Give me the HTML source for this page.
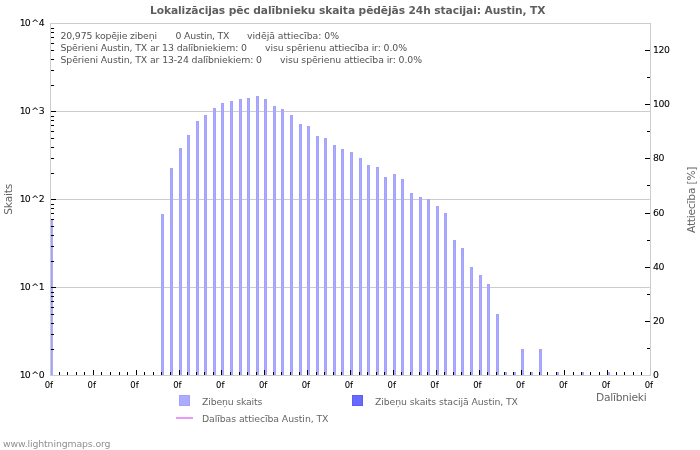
<!DOCTYPE html>
<html lang="lv"><head><meta charset="utf-8"><title>Lokalizācijas pēc dalībnieku skaita</title>
<style>
html,body{margin:0;padding:0;background:#fff;}
body{width:700px;height:450px;overflow:hidden;}
svg{display:block;font-family:"DejaVu Sans","Liberation Sans",sans-serif;}
.cr{shape-rendering:crispEdges;}
.tk{font-size:9.33px;fill:#000;letter-spacing:-0.4px;stroke:#000;stroke-width:0.06px;}
.xl{font-family:"DejaVu Sans Condensed","DejaVu Sans","Liberation Sans",sans-serif;letter-spacing:0;font-size:9.4px;}
.info{font-size:9.33px;fill:#535353;}
.ax{font-size:10.67px;fill:#666;}
.lg{font-size:9.33px;fill:#666;}
.ttl{font-size:10.67px;font-weight:bold;fill:#5e5e5e;}
.wm{font-size:9.33px;fill:#909090;}
</style></head><body>
<svg width="700" height="450" viewBox="0 0 700 450">
<rect x="0" y="0" width="700" height="450" fill="#fff"/>
<text class="ttl" x="150" y="14" textLength="395.5" lengthAdjust="spacing">Lokalizācijas pēc dalībnieku skaita pēdējās 24h stacijai: Austin, TX</text>
<g class="cr" fill="#ccc">
<rect x="50" y="23" width="601" height="1"/>
<rect x="50" y="375" width="601" height="1"/>
<rect x="50" y="23" width="1" height="353"/>
<rect x="650" y="23" width="1" height="353"/>
<rect x="50" y="111" width="600" height="1"/>
<rect x="50" y="199" width="600" height="1"/>
<rect x="50" y="287" width="600" height="1"/>
</g>
<g class="cr">
<rect x="51" y="220" width="2" height="155" fill="#a3a3fd"/>
<rect x="52" y="221" width="1" height="154" fill="#acacfe"/>
<rect x="161" y="214" width="3" height="161" fill="#a3a3fd"/>
<rect x="162" y="215" width="1" height="160" fill="#acacfe"/>
<rect x="170" y="168" width="3" height="207" fill="#a3a3fd"/>
<rect x="171" y="169" width="1" height="206" fill="#acacfe"/>
<rect x="179" y="148" width="3" height="227" fill="#a3a3fd"/>
<rect x="180" y="149" width="1" height="226" fill="#acacfe"/>
<rect x="187" y="135" width="3" height="240" fill="#a3a3fd"/>
<rect x="188" y="136" width="1" height="239" fill="#acacfe"/>
<rect x="196" y="121" width="3" height="254" fill="#a3a3fd"/>
<rect x="197" y="122" width="1" height="253" fill="#acacfe"/>
<rect x="204" y="115" width="3" height="260" fill="#a3a3fd"/>
<rect x="205" y="116" width="1" height="259" fill="#acacfe"/>
<rect x="213" y="108" width="3" height="267" fill="#a3a3fd"/>
<rect x="214" y="109" width="1" height="266" fill="#acacfe"/>
<rect x="221" y="103" width="3" height="272" fill="#a3a3fd"/>
<rect x="222" y="104" width="1" height="271" fill="#acacfe"/>
<rect x="230" y="101" width="3" height="274" fill="#a3a3fd"/>
<rect x="231" y="102" width="1" height="273" fill="#acacfe"/>
<rect x="239" y="99" width="3" height="276" fill="#a3a3fd"/>
<rect x="240" y="100" width="1" height="275" fill="#acacfe"/>
<rect x="247" y="98" width="3" height="277" fill="#a3a3fd"/>
<rect x="248" y="99" width="1" height="276" fill="#acacfe"/>
<rect x="256" y="96" width="3" height="279" fill="#a3a3fd"/>
<rect x="257" y="97" width="1" height="278" fill="#acacfe"/>
<rect x="264" y="99" width="3" height="276" fill="#a3a3fd"/>
<rect x="265" y="100" width="1" height="275" fill="#acacfe"/>
<rect x="273" y="106" width="3" height="269" fill="#a3a3fd"/>
<rect x="274" y="107" width="1" height="268" fill="#acacfe"/>
<rect x="281" y="109" width="3" height="266" fill="#a3a3fd"/>
<rect x="282" y="110" width="1" height="265" fill="#acacfe"/>
<rect x="290" y="115" width="3" height="260" fill="#a3a3fd"/>
<rect x="291" y="116" width="1" height="259" fill="#acacfe"/>
<rect x="299" y="124" width="3" height="251" fill="#a3a3fd"/>
<rect x="300" y="125" width="1" height="250" fill="#acacfe"/>
<rect x="307" y="126" width="3" height="249" fill="#a3a3fd"/>
<rect x="308" y="127" width="1" height="248" fill="#acacfe"/>
<rect x="316" y="136" width="3" height="239" fill="#a3a3fd"/>
<rect x="317" y="137" width="1" height="238" fill="#acacfe"/>
<rect x="324" y="138" width="3" height="237" fill="#a3a3fd"/>
<rect x="325" y="139" width="1" height="236" fill="#acacfe"/>
<rect x="333" y="145" width="3" height="230" fill="#a3a3fd"/>
<rect x="334" y="146" width="1" height="229" fill="#acacfe"/>
<rect x="341" y="149" width="3" height="226" fill="#a3a3fd"/>
<rect x="342" y="150" width="1" height="225" fill="#acacfe"/>
<rect x="350" y="152" width="3" height="223" fill="#a3a3fd"/>
<rect x="351" y="153" width="1" height="222" fill="#acacfe"/>
<rect x="359" y="158" width="3" height="217" fill="#a3a3fd"/>
<rect x="360" y="159" width="1" height="216" fill="#acacfe"/>
<rect x="367" y="165" width="3" height="210" fill="#a3a3fd"/>
<rect x="368" y="166" width="1" height="209" fill="#acacfe"/>
<rect x="376" y="167" width="3" height="208" fill="#a3a3fd"/>
<rect x="377" y="168" width="1" height="207" fill="#acacfe"/>
<rect x="384" y="177" width="3" height="198" fill="#a3a3fd"/>
<rect x="385" y="178" width="1" height="197" fill="#acacfe"/>
<rect x="393" y="174" width="3" height="201" fill="#a3a3fd"/>
<rect x="394" y="175" width="1" height="200" fill="#acacfe"/>
<rect x="401" y="179" width="3" height="196" fill="#a3a3fd"/>
<rect x="402" y="180" width="1" height="195" fill="#acacfe"/>
<rect x="410" y="193" width="3" height="182" fill="#a3a3fd"/>
<rect x="411" y="194" width="1" height="181" fill="#acacfe"/>
<rect x="419" y="197" width="3" height="178" fill="#a3a3fd"/>
<rect x="420" y="198" width="1" height="177" fill="#acacfe"/>
<rect x="427" y="199" width="3" height="176" fill="#a3a3fd"/>
<rect x="428" y="200" width="1" height="175" fill="#acacfe"/>
<rect x="436" y="206" width="3" height="169" fill="#a3a3fd"/>
<rect x="437" y="207" width="1" height="168" fill="#acacfe"/>
<rect x="444" y="213" width="3" height="162" fill="#a3a3fd"/>
<rect x="445" y="214" width="1" height="161" fill="#acacfe"/>
<rect x="453" y="240" width="3" height="135" fill="#a3a3fd"/>
<rect x="454" y="241" width="1" height="134" fill="#acacfe"/>
<rect x="461" y="248" width="3" height="127" fill="#a3a3fd"/>
<rect x="462" y="249" width="1" height="126" fill="#acacfe"/>
<rect x="470" y="267" width="3" height="108" fill="#a3a3fd"/>
<rect x="471" y="268" width="1" height="107" fill="#acacfe"/>
<rect x="479" y="275" width="3" height="100" fill="#a3a3fd"/>
<rect x="480" y="276" width="1" height="99" fill="#acacfe"/>
<rect x="487" y="284" width="3" height="91" fill="#a3a3fd"/>
<rect x="488" y="285" width="1" height="90" fill="#acacfe"/>
<rect x="496" y="314" width="3" height="61" fill="#a3a3fd"/>
<rect x="497" y="315" width="1" height="60" fill="#acacfe"/>
<rect x="504" y="372" width="3" height="3" fill="#a3a3fd"/>
<rect x="505" y="373" width="1" height="2" fill="#acacfe"/>
<rect x="513" y="372" width="3" height="3" fill="#a3a3fd"/>
<rect x="514" y="373" width="1" height="2" fill="#acacfe"/>
<rect x="521" y="349" width="3" height="26" fill="#a3a3fd"/>
<rect x="522" y="350" width="1" height="25" fill="#acacfe"/>
<rect x="530" y="372" width="3" height="3" fill="#a3a3fd"/>
<rect x="531" y="373" width="1" height="2" fill="#acacfe"/>
<rect x="539" y="349" width="3" height="26" fill="#a3a3fd"/>
<rect x="540" y="350" width="1" height="25" fill="#acacfe"/>
<rect x="556" y="372" width="3" height="3" fill="#a3a3fd"/>
<rect x="557" y="373" width="1" height="2" fill="#acacfe"/>
<rect x="581" y="372" width="3" height="3" fill="#a3a3fd"/>
<rect x="582" y="373" width="1" height="2" fill="#acacfe"/>
<rect x="607" y="372" width="3" height="3" fill="#a3a3fd"/>
<rect x="608" y="373" width="1" height="2" fill="#acacfe"/>
</g>
<g class="cr" fill="#000">
<rect x="51" y="349" width="3" height="1"/>
<rect x="51" y="334" width="3" height="1"/>
<rect x="51" y="323" width="3" height="1"/>
<rect x="51" y="314" width="3" height="1"/>
<rect x="51" y="307" width="3" height="1"/>
<rect x="51" y="301" width="3" height="1"/>
<rect x="51" y="296" width="3" height="1"/>
<rect x="51" y="292" width="3" height="1"/>
<rect x="51" y="287" width="5" height="1"/>
<rect x="51" y="261" width="3" height="1"/>
<rect x="51" y="246" width="3" height="1"/>
<rect x="51" y="235" width="3" height="1"/>
<rect x="51" y="226" width="3" height="1"/>
<rect x="51" y="219" width="3" height="1"/>
<rect x="51" y="213" width="3" height="1"/>
<rect x="51" y="208" width="3" height="1"/>
<rect x="51" y="204" width="3" height="1"/>
<rect x="51" y="199" width="5" height="1"/>
<rect x="51" y="173" width="3" height="1"/>
<rect x="51" y="158" width="3" height="1"/>
<rect x="51" y="147" width="3" height="1"/>
<rect x="51" y="138" width="3" height="1"/>
<rect x="51" y="131" width="3" height="1"/>
<rect x="51" y="125" width="3" height="1"/>
<rect x="51" y="120" width="3" height="1"/>
<rect x="51" y="116" width="3" height="1"/>
<rect x="51" y="111" width="5" height="1"/>
<rect x="51" y="85" width="3" height="1"/>
<rect x="51" y="70" width="3" height="1"/>
<rect x="51" y="59" width="3" height="1"/>
<rect x="51" y="50" width="3" height="1"/>
<rect x="51" y="43" width="3" height="1"/>
<rect x="51" y="37" width="3" height="1"/>
<rect x="51" y="32" width="3" height="1"/>
<rect x="51" y="28" width="3" height="1"/>
<rect x="59" y="372" width="1" height="3"/>
<rect x="67" y="372" width="1" height="3"/>
<rect x="76" y="372" width="1" height="3"/>
<rect x="84" y="372" width="1" height="3"/>
<rect x="93" y="370" width="1" height="5"/>
<rect x="101" y="372" width="1" height="3"/>
<rect x="110" y="372" width="1" height="3"/>
<rect x="119" y="372" width="1" height="3"/>
<rect x="127" y="372" width="1" height="3"/>
<rect x="136" y="370" width="1" height="5"/>
<rect x="144" y="372" width="1" height="3"/>
<rect x="153" y="372" width="1" height="3"/>
<rect x="161" y="372" width="1" height="3"/>
<rect x="170" y="372" width="1" height="3"/>
<rect x="179" y="370" width="1" height="5"/>
<rect x="187" y="372" width="1" height="3"/>
<rect x="196" y="372" width="1" height="3"/>
<rect x="204" y="372" width="1" height="3"/>
<rect x="213" y="372" width="1" height="3"/>
<rect x="221" y="370" width="1" height="5"/>
<rect x="230" y="372" width="1" height="3"/>
<rect x="239" y="372" width="1" height="3"/>
<rect x="247" y="372" width="1" height="3"/>
<rect x="256" y="372" width="1" height="3"/>
<rect x="264" y="370" width="1" height="5"/>
<rect x="273" y="372" width="1" height="3"/>
<rect x="281" y="372" width="1" height="3"/>
<rect x="290" y="372" width="1" height="3"/>
<rect x="299" y="372" width="1" height="3"/>
<rect x="307" y="370" width="1" height="5"/>
<rect x="316" y="372" width="1" height="3"/>
<rect x="324" y="372" width="1" height="3"/>
<rect x="333" y="372" width="1" height="3"/>
<rect x="341" y="372" width="1" height="3"/>
<rect x="350" y="370" width="1" height="5"/>
<rect x="359" y="372" width="1" height="3"/>
<rect x="367" y="372" width="1" height="3"/>
<rect x="376" y="372" width="1" height="3"/>
<rect x="384" y="372" width="1" height="3"/>
<rect x="393" y="370" width="1" height="5"/>
<rect x="401" y="372" width="1" height="3"/>
<rect x="410" y="372" width="1" height="3"/>
<rect x="419" y="372" width="1" height="3"/>
<rect x="427" y="372" width="1" height="3"/>
<rect x="436" y="370" width="1" height="5"/>
<rect x="444" y="372" width="1" height="3"/>
<rect x="453" y="372" width="1" height="3"/>
<rect x="461" y="372" width="1" height="3"/>
<rect x="470" y="372" width="1" height="3"/>
<rect x="479" y="370" width="1" height="5"/>
<rect x="487" y="372" width="1" height="3"/>
<rect x="496" y="372" width="1" height="3"/>
<rect x="504" y="372" width="1" height="3"/>
<rect x="513" y="372" width="1" height="3"/>
<rect x="521" y="370" width="1" height="5"/>
<rect x="530" y="372" width="1" height="3"/>
<rect x="539" y="372" width="1" height="3"/>
<rect x="547" y="372" width="1" height="3"/>
<rect x="556" y="372" width="1" height="3"/>
<rect x="564" y="370" width="1" height="5"/>
<rect x="573" y="372" width="1" height="3"/>
<rect x="581" y="372" width="1" height="3"/>
<rect x="590" y="372" width="1" height="3"/>
<rect x="599" y="372" width="1" height="3"/>
<rect x="607" y="370" width="1" height="5"/>
<rect x="616" y="372" width="1" height="3"/>
<rect x="624" y="372" width="1" height="3"/>
<rect x="633" y="372" width="1" height="3"/>
<rect x="641" y="372" width="1" height="3"/>
<rect x="647" y="348" width="3" height="1"/>
<rect x="645" y="321" width="5" height="1"/>
<rect x="647" y="294" width="3" height="1"/>
<rect x="645" y="267" width="5" height="1"/>
<rect x="647" y="240" width="3" height="1"/>
<rect x="645" y="213" width="5" height="1"/>
<rect x="647" y="185" width="3" height="1"/>
<rect x="645" y="158" width="5" height="1"/>
<rect x="647" y="131" width="3" height="1"/>
<rect x="645" y="104" width="5" height="1"/>
<rect x="647" y="77" width="3" height="1"/>
<rect x="645" y="50" width="5" height="1"/>
</g>
<text class="tk" x="19.7 24.8 31.3 38.8" y="378">10^0</text>
<text class="tk" x="19.7 24.8 31.3 38.8" y="290">10^1</text>
<text class="tk" x="19.7 24.8 31.3 38.8" y="202">10^2</text>
<text class="tk" x="19.7 24.8 31.3 38.8" y="114">10^3</text>
<text class="tk" x="19.7 24.8 31.3 38.8" y="26">10^4</text>
<text class="tk" x="653" y="378">0</text>
<text class="tk" x="653" y="324">20</text>
<text class="tk" x="653" y="270">40</text>
<text class="tk" x="653" y="216">60</text>
<text class="tk" x="653" y="161">80</text>
<text class="tk" x="653" y="107">100</text>
<text class="tk" x="653" y="53">120</text>
<text class="tk xl" x="48.8" y="387.5" text-anchor="middle">0f</text>
<text class="tk xl" x="91.7" y="387.5" text-anchor="middle">0f</text>
<text class="tk xl" x="134.5" y="387.5" text-anchor="middle">0f</text>
<text class="tk xl" x="177.4" y="387.5" text-anchor="middle">0f</text>
<text class="tk xl" x="220.2" y="387.5" text-anchor="middle">0f</text>
<text class="tk xl" x="263.1" y="387.5" text-anchor="middle">0f</text>
<text class="tk xl" x="305.9" y="387.5" text-anchor="middle">0f</text>
<text class="tk xl" x="348.8" y="387.5" text-anchor="middle">0f</text>
<text class="tk xl" x="391.7" y="387.5" text-anchor="middle">0f</text>
<text class="tk xl" x="434.5" y="387.5" text-anchor="middle">0f</text>
<text class="tk xl" x="477.4" y="387.5" text-anchor="middle">0f</text>
<text class="tk xl" x="520.2" y="387.5" text-anchor="middle">0f</text>
<text class="tk xl" x="563.1" y="387.5" text-anchor="middle">0f</text>
<text class="tk xl" x="605.9" y="387.5" text-anchor="middle">0f</text>
<text class="tk xl" x="648.8" y="387.5" text-anchor="middle">0f</text>
<text class="info" x="60.5" y="39" textLength="96.5" lengthAdjust="spacing">20,975 kopējie zibeņi</text>
<text class="info" x="175.5" y="39" textLength="54" lengthAdjust="spacing">0 Austin, TX</text>
<text class="info" x="247" y="39" textLength="92" lengthAdjust="spacing">vidējā attiecība: 0%</text>
<text class="info" x="60.5" y="51" textLength="186.5" lengthAdjust="spacing">Spērieni Austin, TX ar 13 dalībniekiem: 0</text>
<text class="info" x="265" y="51" textLength="142" lengthAdjust="spacing">visu spērienu attiecība ir: 0.0%</text>
<text class="info" x="60.5" y="63" textLength="201.5" lengthAdjust="spacing">Spērieni Austin, TX ar 13-24 dalībniekiem: 0</text>
<text class="info" x="280" y="63" textLength="142" lengthAdjust="spacing">visu spērienu attiecība ir: 0.0%</text>
<text class="ax" transform="translate(12.4,214.7) rotate(-90)" textLength="31" lengthAdjust="spacing">Skaits</text>
<text class="ax" transform="translate(695,233) rotate(-90)" textLength="66.5" lengthAdjust="spacing">Attiecība [%]</text>
<text class="ax" x="596.1" y="400.8" textLength="50.6" lengthAdjust="spacing">Dalībnieki</text>
<rect class="cr" x="179" y="395" width="11" height="11" fill="#a3a3fd"/><rect class="cr" x="180" y="396" width="9" height="9" fill="#acacfe"/>
<text class="lg" x="202" y="404.5" textLength="60.4" lengthAdjust="spacing">Zibeņu skaits</text>
<rect class="cr" x="352" y="395" width="11" height="11" fill="#5c5cff"/><rect class="cr" x="353" y="396" width="9" height="9" fill="#6969ff"/>
<text class="lg" x="375" y="404.5" textLength="143" lengthAdjust="spacing">Zibeņu skaits stacijā Austin, TX</text>
<rect class="cr" x="176" y="417" width="17" height="2" fill="#ea98ff"/>
<text class="lg" x="202" y="422" textLength="126.5" lengthAdjust="spacing">Dalības attiecība Austin, TX</text>
<text class="wm" x="3" y="446.5" textLength="107.5" lengthAdjust="spacing">www.lightningmaps.org</text>
</svg></body></html>
